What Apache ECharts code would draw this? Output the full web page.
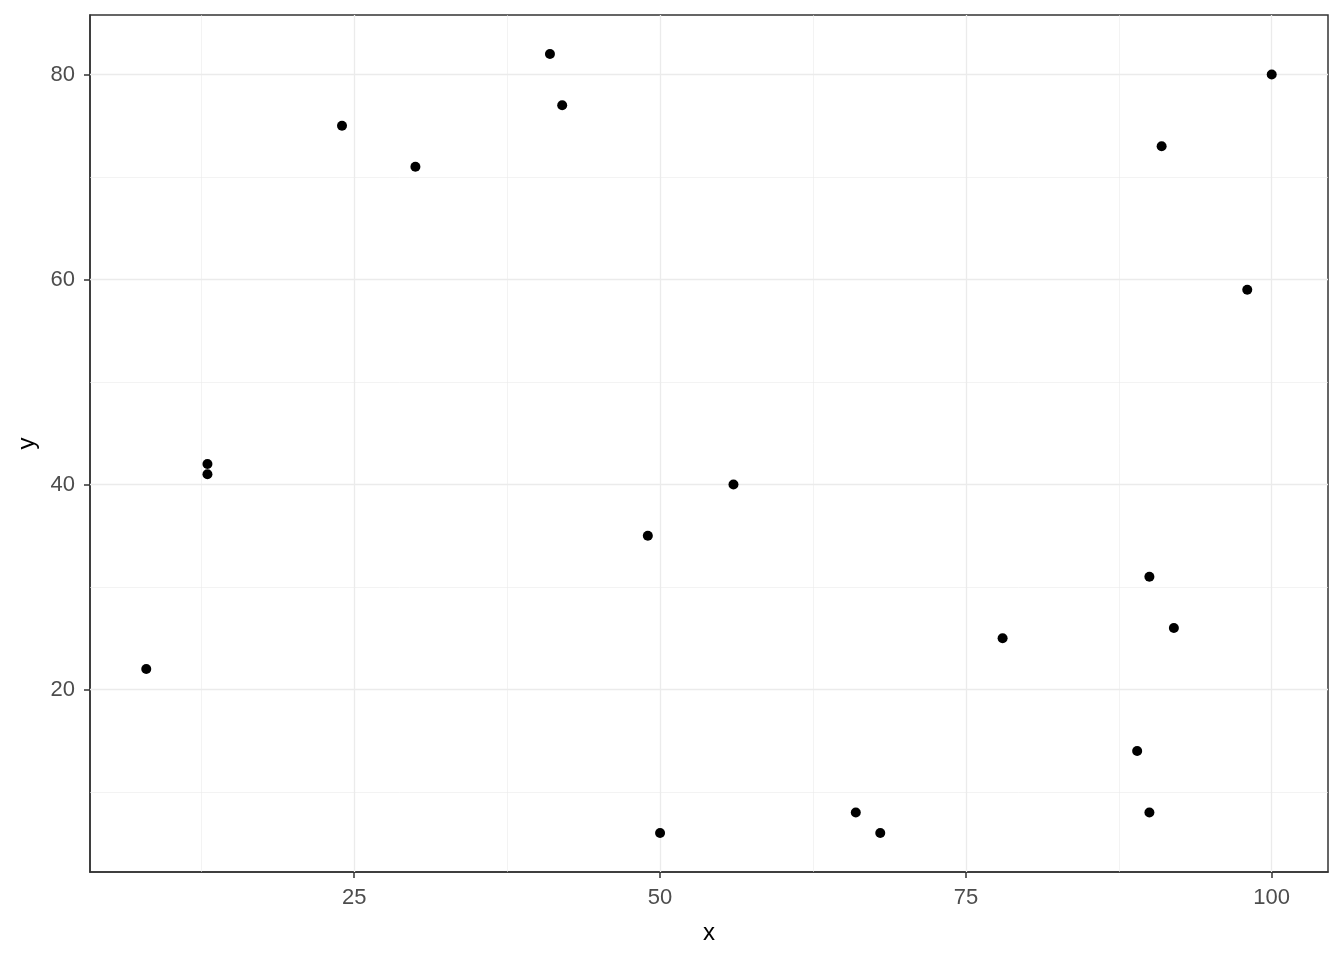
<!DOCTYPE html>
<html>
<head>
<meta charset="utf-8">
<script src="https://cdn.jsdelivr.net/npm/echarts@6/dist/echarts.min.js"></script>
<style>html,body{margin:0;padding:0;background:#fff}#c{width:1344px;height:960px}</style>
</head>
<body>
<div id="c"></div>
<script>
var xValues = [8, 13, 13, 24, 30, 41, 42, 49, 50, 56, 66, 68, 78, 89, 90, 90, 91, 92, 98, 100];
var yValues = [22, 42, 41, 75, 71, 82, 77, 35, 6, 40, 8, 6, 25, 14, 8, 31, 73, 26, 59, 80];
var xTicks = [25, 50, 75, 100];
var yTicks = [20, 40, 60, 80];
var xMinor = [12.5, 37.5, 62.5, 87.5];
var yMinor = [10, 30, 50, 70];

var points = xValues.map(function (x, i) { return [x, yValues[i]]; });
function vl(arr, w) { return arr.map(function (v) { return { xAxis: v, lineStyle: { width: w } }; }); }
function hl(arr, w) { return arr.map(function (v) { return { yAxis: v, lineStyle: { width: w } }; }); }

var FONT = 'Liberation Sans, Arial, sans-serif';
var chart = echarts.init(document.getElementById('c'));
chart.setOption({
  animation: false,
  backgroundColor: '#ffffff',
  grid: { left: 90, right: 16, top: 15, bottom: 88, show: true, borderColor: '#333333', borderWidth: 1.5, backgroundColor: '#ffffff' },
  xAxis: {
    type: 'value', min: 3.4, max: 104.6,
    name: 'x', nameLocation: 'middle', nameGap: 49,
    nameTextStyle: { color: '#000', fontSize: 24, fontFamily: FONT },
    axisLine: { show: true, lineStyle: { color: '#333333', width: 1.5 } },
    axisTick: { show: true, length: 6, customValues: xTicks, lineStyle: { color: '#333333', width: 1.5 } },
    axisLabel: { customValues: xTicks, margin: 15, color: '#4d4d4d', fontSize: 22, fontFamily: FONT },
    splitLine: { show: false }
  },
  yAxis: {
    type: 'value', min: 2.2, max: 85.8,
    name: 'y', nameLocation: 'middle', nameGap: 43, nameRotate: 90,
    nameTextStyle: { color: '#000', fontSize: 24, fontFamily: FONT },
    axisLine: { show: true, lineStyle: { color: '#333333', width: 1.5 } },
    axisTick: { show: true, length: 6, customValues: yTicks, lineStyle: { color: '#333333', width: 1.5 } },
    axisLabel: { customValues: yTicks, margin: 15, color: '#4d4d4d', fontSize: 22, fontFamily: FONT },
    splitLine: { show: false }
  },
  series: [
    {
      type: 'scatter', data: [], z: 1, silent: true,
      markLine: {
        z: 1, silent: true, symbol: 'none', label: { show: false },
        lineStyle: { color: '#ebebeb', type: 'solid' },
        emphasis: { disabled: true },
        data: vl(xMinor, 0.6).concat(hl(yMinor, 0.6), vl(xTicks, 1.3), hl(yTicks, 1.3))
      }
    },
    {
      type: 'scatter', data: points, z: 10, symbol: 'circle', symbolSize: 10,
      itemStyle: { color: '#000000', opacity: 1 }
    }
  ]
});
</script>
</body>
</html>
